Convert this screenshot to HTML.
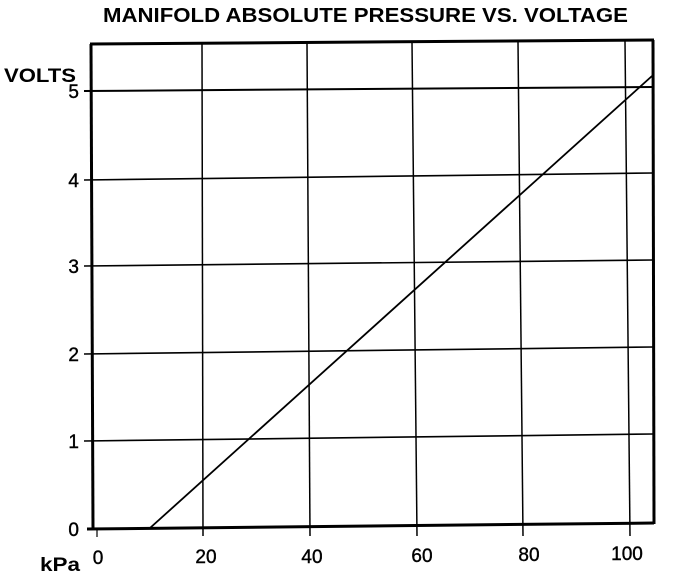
<!DOCTYPE html>
<html><head><style>body{margin:0;background:#fff}svg{display:block}</style></head><body>
<svg width="688" height="572" viewBox="0 0 688 572" xmlns="http://www.w3.org/2000/svg" font-family="Liberation Sans, sans-serif" font-weight="bold">
<text x="103" y="22" font-size="20" textLength="525" lengthAdjust="spacingAndGlyphs">MANIFOLD ABSOLUTE PRESSURE VS. VOLTAGE</text>
<g stroke="#000" fill="none">
<line x1="90" y1="44" x2="654" y2="40" stroke-width="3"/>
<line x1="91" y1="44" x2="93" y2="529" stroke-width="3"/>
<line x1="653" y1="40" x2="654" y2="524" stroke-width="3"/>
<line x1="87" y1="529" x2="654" y2="523" stroke-width="3"/>
<line x1="84" y1="91" x2="653" y2="87" stroke-width="2"/>
<line x1="84" y1="180" x2="653" y2="173" stroke-width="1.6"/>
<line x1="84" y1="266" x2="653" y2="260" stroke-width="1.6"/>
<line x1="84" y1="354" x2="653" y2="347" stroke-width="1.6"/>
<line x1="84" y1="441" x2="653" y2="434" stroke-width="1.6"/>
<line x1="202" y1="44" x2="203" y2="536" stroke-width="1.5"/>
<line x1="307" y1="43" x2="310" y2="536" stroke-width="1.5"/>
<line x1="412" y1="42" x2="417" y2="536" stroke-width="1.5"/>
<line x1="518" y1="42" x2="523" y2="536" stroke-width="1.5"/>
<line x1="625" y1="41" x2="630" y2="536" stroke-width="1.5"/>
<line x1="97" y1="529" x2="97" y2="537" stroke-width="1.2"/>
<line x1="150" y1="528" x2="652" y2="76" stroke-width="1.8"/>
</g>
<g font-size="19" font-weight="normal" text-anchor="end" stroke="#000" stroke-width="0.4">
<text x="79" y="98">5</text><text x="79" y="187">4</text><text x="79" y="273">3</text>
<text x="79" y="361">2</text><text x="79" y="448">1</text><text x="79" y="536">0</text>
</g>
<text x="4" y="82" font-size="19" textLength="72" lengthAdjust="spacingAndGlyphs">VOLTS</text>
<text x="40" y="571" font-size="19" textLength="40" lengthAdjust="spacingAndGlyphs">kPa</text>
<g font-size="19" font-weight="normal" text-anchor="middle" stroke="#000" stroke-width="0.4">
<text x="98" y="564">0</text><text x="206" y="563">20</text><text x="312" y="563">40</text>
<text x="422" y="562">60</text><text x="529" y="561">80</text><text x="627" y="560">100</text>
</g>
</svg>
</body></html>
